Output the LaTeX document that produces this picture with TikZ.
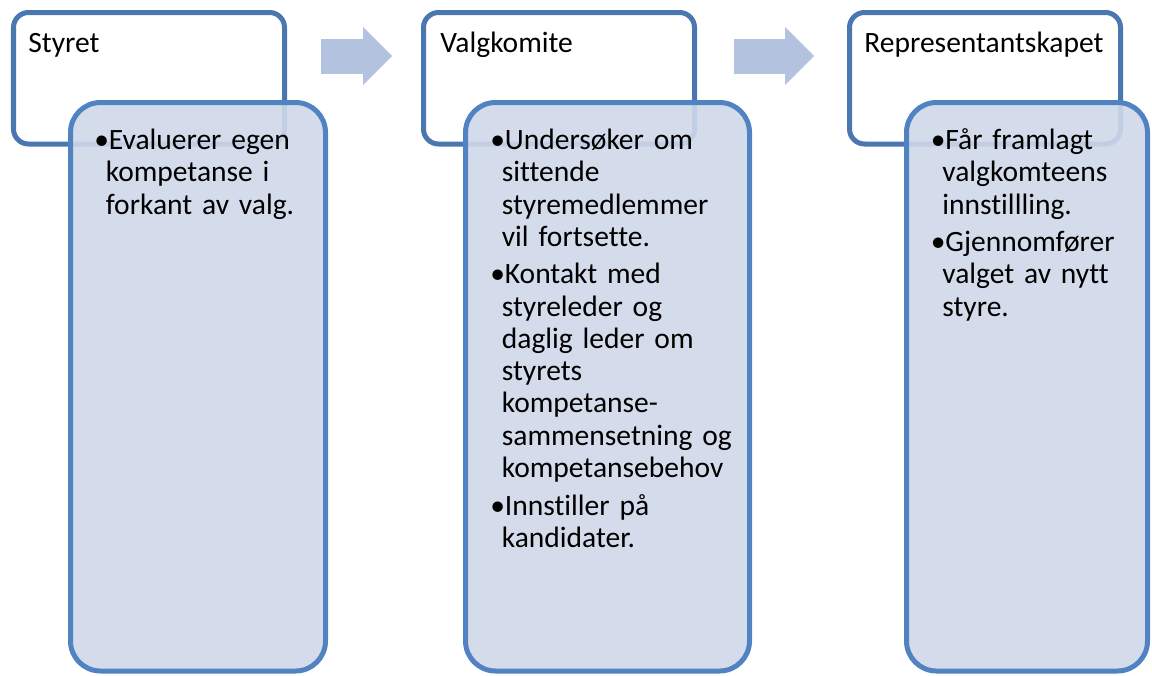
\documentclass[tikz,border=0pt]{standalone}
\usepackage{fontspec}
\setmainfont{Carlito}[Ligatures=CommonOff]
\usepackage{tikz}
\usetikzlibrary{arrows.meta}
\usepackage{xcolor}
\definecolor{headcolor}{RGB}{74, 119, 175}
\definecolor{bodycolor}{RGB}{81, 130, 194}
\definecolor{fillcolor}{RGB}{207, 216, 233}
\definecolor{arrowcolor}{RGB}{179, 194, 222}

\newcommand{\boxfont}{\fontsize{16.8}{18.35}\selectfont}
\newcommand{\punkt}{\setlength{\parskip}{0.11cm}\hangindent=0.23cm\hangafter=1\noindent\hbox to 0.29cm{\textbullet\hss}}

\begin{document}
\begin{tikzpicture}[
    head/.style={rectangle, draw=headcolor, line width=0.1cm, rounded corners=0.3cm, minimum width=5.42cm, minimum height=2.63cm},
    body/.style={rectangle, draw=bodycolor, fill=fillcolor, fill opacity=0.9, line width=0.1cm, rounded corners=0.6cm, minimum height=11.37cm},
    title/.style={anchor=base west, inner sep=0pt, font=\boxfont},
    points/.style={anchor=base west, inner sep=0pt, text width=6cm, align=left, font=\boxfont},
    arrow/.style={-{Triangle[length=0.58cm, width=1.16cm, line width=0pt]}, line width=0.7cm, draw=arrowcolor}
]
    \useasboundingbox (0, 0) rectangle (23.04, -13.5);

    % Heads
    \node[head] (top1) at (2.98, -1.565) {};
    \node[head] (top2) at (11.18, -1.565) {};
    \node[head] (top3) at (19.70, -1.565) {};

    \node[title] (t1) at ([shift={(0.34, -0.84)}]top1.north west) {Styret};
    \node[title] (t2) at ([shift={(0.38, -0.84)}]top2.north west) {Valgkomite};
    \node[title] (t3) at ([shift={(0.34, -0.84)}]top3.north west) {Representantskapet};

    % Bodies
    \node[body, minimum width=5.10cm] (low1) at (3.96, -7.735) {};
    \node[body, minimum width=5.68cm] (low2) at (12.15, -7.735) {};
    \node[body, minimum width=4.82cm] (low3) at (20.54, -7.735) {};

    \node[points] (p1) at ([shift={(0.52, -0.99)}]low1.north west) {
        \punkt Evaluerer egen\newline kompetanse i\newline forkant av valg.\par
    };

    \node[points] (p2) at ([shift={(0.54, -0.99)}]low2.north west) {
        \punkt Undersøker om\newline sittende\newline styremedlemmer\newline vil fortsette.\par
        \punkt Kontakt med\newline styreleder og\newline daglig leder om\newline styrets\newline kompetanse-\newline sammensetning og\newline kompetansebehov\par
        \punkt Innstiller på\newline kandidater.\par
    };

    \node[points] (p3) at ([shift={(0.53, -0.99)}]low3.north west) {
        \punkt Får framlagt\newline valgkomteens\newline innstillling.\par
        \punkt Gjennomfører\newline valget av nytt\newline styre.\par
    };

    % Arrows
    \coordinate (a1s) at (6.42, -1.12);
    \coordinate (a1e) at (7.84, -1.12);
    \coordinate (a2s) at (14.68, -1.12);
    \coordinate (a2e) at (16.28, -1.12);
    \draw[arrow] (a1s) -- (a1e);
    \draw[arrow] (a2s) -- (a2e);
\end{tikzpicture}
\end{document}
